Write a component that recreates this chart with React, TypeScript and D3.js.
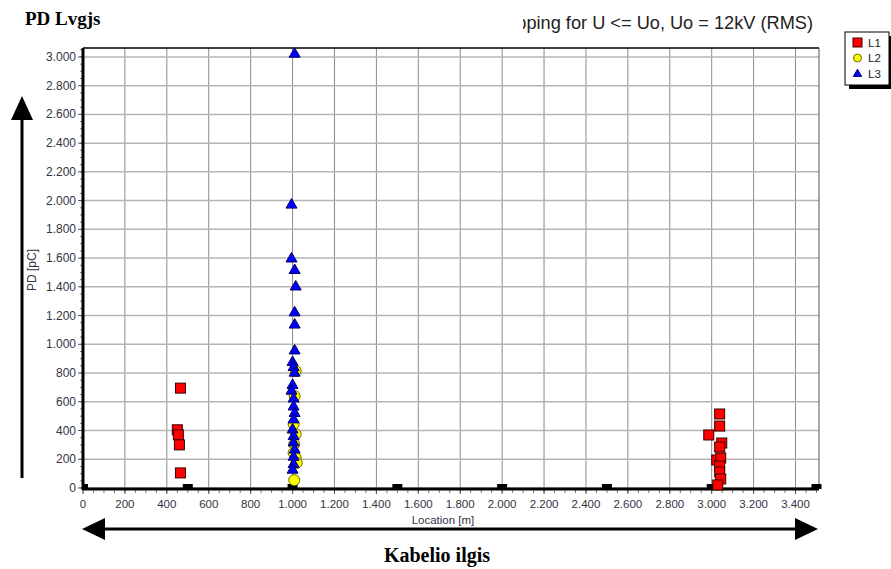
import React from "react";
import * as d3 from "d3";

// Partial discharge events along the cable: [location m, charge pC]
const l1Points: [number, number][] = [
  [465, 695], [450, 405], [455, 370], [460, 300], [465, 105],
  [3038, 515], [3038, 431], [2986, 369], [3048, 313], [3038, 285],
  [3024, 195], [3043, 209], [3038, 153], [3038, 111], [3043, 63], [3029, 21],
];
const l2Points: [number, number][] = [
  [1015, 815], [1010, 640], [1005, 445], [1015, 375], [1008, 305],
  [1005, 245], [1015, 210], [1020, 175], [1008, 55],
];
const l3Points: [number, number][] = [
  [1010, 3020], [995, 1970], [995, 1595], [1010, 1515], [1015, 1400],
  [1010, 1220], [1010, 1135], [1010, 955], [1000, 875], [1005, 840],
  [1010, 800], [1000, 715], [995, 675], [1005, 620], [1005, 565],
  [1010, 520], [1005, 475], [1000, 405], [1005, 360], [1005, 315],
  [1010, 265], [1005, 215], [1005, 165], [1000, 125],
];
// Cable joint / termination positions shown on the axis
const jointLocations = [0, 500, 1000, 1500, 2000, 2500, 3000, 3500];

const xTicks = d3.range(0, 3401, 200);
const yTicks = d3.range(0, 3001, 200);
const xMinor = d3.range(0, 3501, 50);
const yMinor = d3.range(0, 3051, 50);

const W = 891;
const H = 569;
const left = 83;
const right = 819;
const top = 48;
const bottom = 488;

const fmt = (v: number) => d3.format(",")(v).replace(/,/g, ".");

export default function App() {
  const x = d3.scaleLinear().domain([0, 3512]).range([left, right]);
  const y = d3.scaleLinear().domain([0, 3062]).range([bottom, top]);
  const sans = "Arial, 'Liberation Sans', sans-serif";
  const serif = "'Times New Roman', 'Liberation Serif', serif";
  const tri = d3.symbol().type(d3.symbolTriangle).size(52)() as string;

  return (
    <svg width={W} height={H} style={{ position: "absolute", left: 0, top: 0 }}>
      <rect width={W} height={H} fill="#fff" />
      <defs>
        <clipPath id="subtitle-clip">
          <rect x={523} y={0} width={300} height={45} />
        </clipPath>
        <clipPath id="plot-clip">
          <rect x={left} y={top - 10} width={right - left + 5} height={bottom - top + 12} />
        </clipPath>
      </defs>

      {/* titles */}
      <text x={25} y={25} fontFamily={serif} fontWeight="bold" fontSize={19} fill="#000">
        PD Lvgjs
      </text>
      <g clipPath="url(#subtitle-clip)">
        <text x={813} y={29} textAnchor="end" fontFamily={sans} fontSize={18.2} fill="#222">
          Mapping for U &lt;= Uo, Uo = 12kV (RMS)
        </text>
      </g>

      {/* grid */}
      {xTicks.map((t) => (
        <line key={"gx" + t} x1={x(t)} x2={x(t)} y1={top} y2={bottom} stroke="#8a8a8a" strokeWidth={1} />
      ))}
      {yTicks.map((t) => (
        <line key={"gy" + t} x1={left} x2={right} y1={y(t)} y2={y(t)} stroke="#b4b4b4" strokeWidth={1.5} />
      ))}

      {/* frame */}
      <line x1={left} x2={right} y1={top} y2={top} stroke="#000" strokeWidth={1.5} />
      <line x1={right} x2={right} y1={top} y2={bottom} stroke="#555" strokeWidth={1} />

      {/* minor ticks */}
      {yMinor.map((t) => (
        <line key={"my" + t} x1={left - 3} x2={left} y1={y(t)} y2={y(t)} stroke="#777" strokeWidth={1} />
      ))}
      {xMinor.map((t) => (
        <line key={"mx" + t} x1={x(t)} x2={x(t)} y1={bottom} y2={bottom + 5} stroke="#777" strokeWidth={1} />
      ))}
      {yTicks.map((t) => (
        <g key={"ty" + t}>
          <line x1={left - 5} x2={left} y1={y(t)} y2={y(t)} stroke="#555" strokeWidth={1} />
          <text x={left - 7} y={y(t) + 4} textAnchor="end" fontFamily={sans} fontSize={12} fill="#333344">
            {fmt(t)}
          </text>
        </g>
      ))}
      {xTicks.map((t) => (
        <g key={"tx" + t}>
          <line x1={x(t)} x2={x(t)} y1={bottom} y2={bottom + 6} stroke="#555" strokeWidth={1} />
          <text x={x(t)} y={bottom + 20} textAnchor="middle" fontFamily={sans} fontSize={11.5} fill="#333344">
            {fmt(t)}
          </text>
        </g>
      ))}

      {/* axis lines */}
      <line x1={left} x2={left} y1={top} y2={bottom + 2} stroke="#000" strokeWidth={3} />
      <line x1={left} x2={right} y1={bottom + 1} y2={bottom + 1} stroke="#000" strokeWidth={3} />

      {/* joint markers */}
      <g clipPath="url(#plot-clip)">
        {jointLocations.map((j) => (
          <rect key={"j" + j} x={x(j) - 5} y={bottom - 4} width={10} height={5} fill="#000" />
        ))}
      </g>

      {/* series */}
      {l1Points.map(([lx, v], i) => (
        <rect key={"a" + i} x={x(lx) - 5} y={y(v) - 5} width={10} height={10}
          fill="#ff0000" stroke="#3a0000" strokeWidth={1} />
      ))}
      {l2Points.map(([lx, v], i) => (
        <circle key={"b" + i} cx={x(lx)} cy={y(v)} r={5.5} fill="#ffff00" stroke="#6b6b00" strokeWidth={1} />
      ))}
      {l3Points.map(([lx, v], i) => (
        <path key={"c" + i} d={tri} transform={`translate(${x(lx)},${y(v)})`}
          fill="#0000ff" stroke="#000060" strokeWidth={1} />
      ))}

      {/* axis titles */}
      <text x={(left + right) / 2 - 8} y={524} textAnchor="middle" fontFamily={sans} fontSize={11.5} fill="#333344">
        Location [m]
      </text>
      <text transform={`translate(36,270) rotate(-90)`} textAnchor="middle" fontFamily={sans} fontSize={12} fill="#333344">
        PD [pC]
      </text>

      {/* legend */}
      <rect x={849} y={36} width={44} height={53} fill="#000" />
      <rect x={845} y={32} width={44} height={53} fill="#fff" stroke="#000" strokeWidth={1} />
      <rect x={853} y={38} width={9} height={9} fill="#ff0000" stroke="#3a0000" />
      <text x={868} y={47} fontFamily={sans} fontSize={11.5} fill="#222">L1</text>
      <circle cx={857.5} cy={58} r={4} fill="#ffff00" stroke="#6b6b00" />
      <text x={868} y={62} fontFamily={sans} fontSize={11.5} fill="#222">L2</text>
      <path d={d3.symbol().type(d3.symbolTriangle).size(30)() as string} transform="translate(857.5,74)" fill="#0000ff" stroke="#000060" />
      <text x={868} y={78} fontFamily={sans} fontSize={11.5} fill="#222">L3</text>

      {/* vertical arrow */}
      <line x1={22} x2={22} y1={478} y2={115} stroke="#000" strokeWidth={3} />
      <path d="M22,96 L11,120 L33,120 Z" fill="#000" />

      {/* horizontal double arrow */}
      <line x1={100} x2={800} y1={529} y2={529} stroke="#000" strokeWidth={3} />
      <path d="M82,529 L105,518 L105,540 Z" fill="#000" />
      <path d="M818,529 L795,518 L795,540 Z" fill="#000" />

      <text x={437} y={562} textAnchor="middle" fontFamily={serif} fontWeight="bold" fontSize={20} fill="#000">
        Kabelio ilgis
      </text>
    </svg>
  );
}
